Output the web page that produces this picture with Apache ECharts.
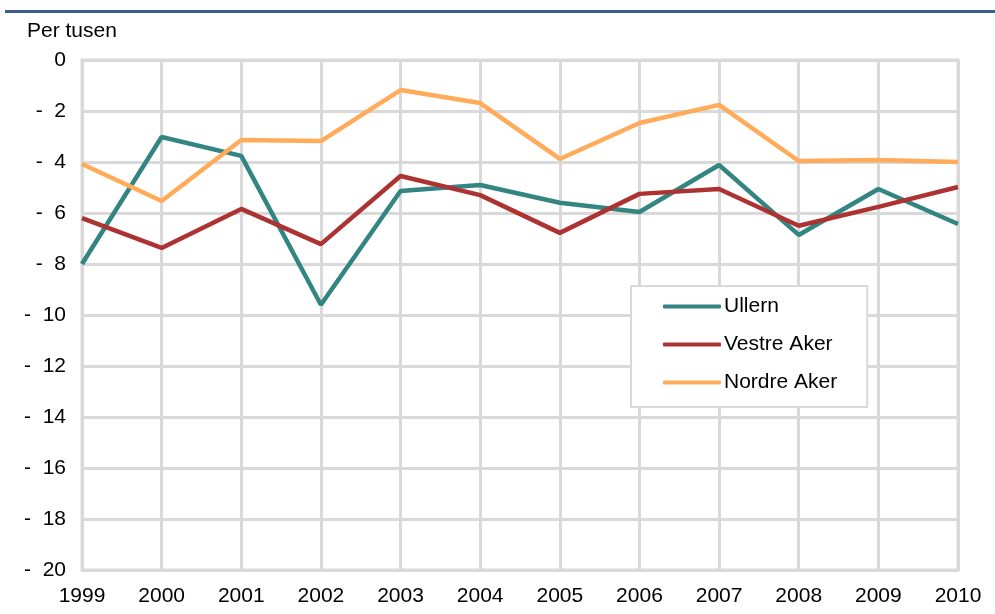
<!DOCTYPE html>
<html>
<head>
    <meta charset="utf-8">
    <title>Per tusen</title>
    <script src="https://cdn.jsdelivr.net/npm/echarts@6/dist/echarts.min.js"></script>
    <style>
        html, body { margin: 0; padding: 0; background: #fff; }
        #chart { width: 995px; height: 614px; }
    </style>
</head>
<body>
<div id="chart"></div>
<script>
    var years = ['1999', '2000', '2001', '2002', '2003', '2004', '2005', '2006', '2007', '2008', '2009', '2010'];
    var ullern = [-8.0, -3.02, -3.76, -9.6, -5.14, -4.9, -5.6, -5.96, -4.12, -6.86, -5.06, -6.43];
    var vestreAker = [-6.2, -7.37, -5.84, -7.22, -4.55, -5.3, -6.78, -5.25, -5.06, -6.5, -5.76, -4.98];
    var nordreAker = [-4.08, -5.53, -3.14, -3.18, -1.18, -1.69, -3.88, -2.47, -1.76, -3.96, -3.92, -4.0];

    var chart = echarts.init(document.getElementById('chart'));
    var font = 'Liberation Sans, Arial, sans-serif';

    function line(name, data, color) {
        return {
            name: name,
            type: 'line',
            data: data,
            symbol: 'none',
            lineStyle: { color: color, width: 4.5 },
            itemStyle: { color: color }
        };
    }

    var option = {
        animation: false,
        backgroundColor: '#fff',
        textStyle: { fontFamily: font },
        grid: {
            left: 82, right: 37, top: 60, bottom: 44,
            show: true, borderColor: '#d9d9d9', borderWidth: 3
        },
        graphic: [
            {
                type: 'rect',
                shape: { x: 5, y: 10, width: 990, height: 3 },
                style: { fill: '#3e5b8e' }
            },
            {
                type: 'text', left: 27, top: 21,
                style: { text: 'Per tusen', fontSize: 21, fontFamily: font, fill: '#000' }
            }
        ],
        legend: {
            orient: 'vertical',
            left: 631, top: 286,
            padding: [10, 30, 14, 32],
            itemGap: 17,
            itemWidth: 58, itemHeight: 4,
            backgroundColor: '#fff',
            borderColor: '#d9d9d9', borderWidth: 2,
            icon: 'roundRect',
            textStyle: { fontSize: 21, color: '#000', fontFamily: font, padding: [0, 0, 0, -2] },
            data: ['Ullern', 'Vestre Aker', 'Nordre Aker']
        },
        xAxis: {
            type: 'category',
            data: years,
            boundaryGap: false,
            axisLine: { lineStyle: { color: '#d9d9d9', width: 3 } },
            axisTick: { show: false },
            axisLabel: { color: '#000', fontSize: 21, margin: 16 },
            splitLine: { show: true, lineStyle: { color: '#d9d9d9', width: 3 } }
        },
        yAxis: {
            type: 'value',
            min: -20, max: 0, interval: 2,
            axisLine: { show: true, lineStyle: { color: '#d9d9d9', width: 3 } },
            axisTick: { show: false },
            axisLabel: {
                color: '#000', fontSize: 21, margin: 16,
                formatter: function (v) { return v === 0 ? '0' : '-  ' + Math.abs(v); }
            },
            splitLine: { lineStyle: { color: '#d9d9d9', width: 3 } }
        },
        series: [
            line('Ullern', ullern, '#328580'),
            line('Vestre Aker', vestreAker, '#ad3333'),
            line('Nordre Aker', nordreAker, '#ffab5a')
        ]
    };

    chart.setOption(option);
</script>
</body>
</html>
